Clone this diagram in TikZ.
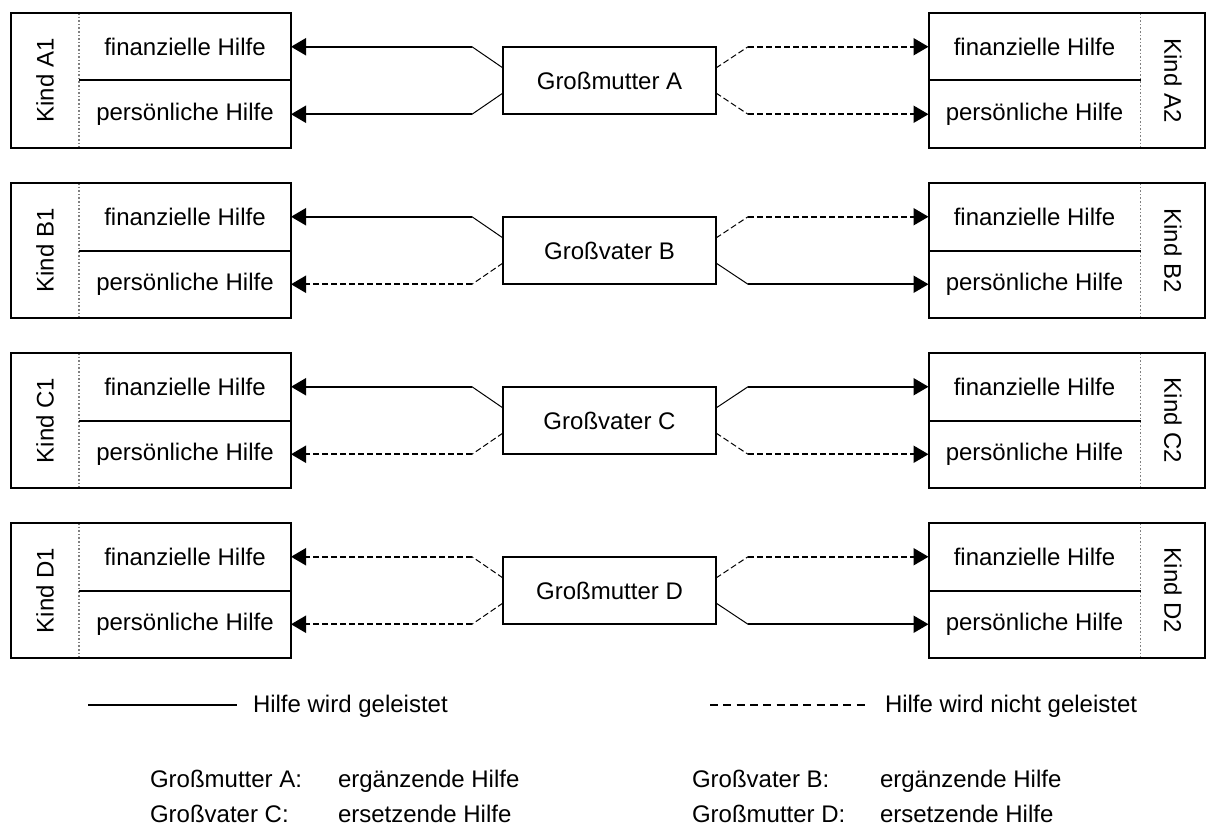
\documentclass[tikz,border=0pt]{standalone}
\usepackage{fontspec}
\setmainfont{Liberation Sans}
\usepackage{tikz}
\usetikzlibrary{arrows.meta}
\usetikzlibrary{positioning}

\tikzset{
  cell/.style={minimum width=106pt, minimum height=33.75pt, inner sep=0pt, outer sep=0pt},
  kind/.style={inner sep=0pt, outer sep=0pt},
  elder/.style={draw=black, line width=1pt, minimum width=106.5pt, minimum height=33.75pt, inner sep=0pt, outer sep=0pt},
  frame/.style={line width=1pt},
  divider/.style={draw=gray, line width=0.8pt, densely dotted},
  given/.style={line width=1pt, -{Triangle[length=7.5pt,width=8.5pt]}},
  notgiven/.style={given, dash pattern=on 3pt off 1.5pt},
  kink/.style={line width=0.5pt},
  kinkdash/.style={kink, dash pattern=on 3pt off 1.5pt},
  legendtext/.style={inner sep=0pt, outer sep=0pt, anchor=base west}
}

\begin{document}
\begin{tikzpicture}[x=0.5pt, y=-0.5pt, font=\fontsize{12pt}{14pt}\selectfont]
    \useasboundingbox (0,0) rectangle (1209,829);

    % Zeile A
    \node[kind, rotate=90] (kindA1) at (45,80.5) {Kind A1};
    \node[cell] (finA1) at (185,46.75) {finanzielle Hilfe};
    \node[cell] (persA1) at (185,114.25) {persönliche Hilfe};
    \draw[divider] (finA1.north west) -- (persA1.south west);
    \draw[frame] (11,13) rectangle (persA1.south east);
    \draw[frame] (finA1.south west) -- (finA1.south east);
    \node[kind, rotate=-90] (kindA2) at (1173,80.5) {Kind A2};
    \node[cell] (finA2) at (1034.5,46.75) {finanzielle Hilfe};
    \node[cell] (persA2) at (1034.5,114.25) {persönliche Hilfe};
    \draw[divider] (finA2.north east) -- (persA2.south east);
    \draw[frame] (finA2.north west) rectangle (1205,148);
    \draw[frame] (finA2.south west) -- (finA2.south east);
    \node[elder] (gmA) at (609.5,80.5) {Großmutter A};
    \coordinate (bendA1f) at (472,46.75);
    \coordinate (bendA1p) at (472,114.25);
    \coordinate (bendA2f) at (748,46.75);
    \coordinate (bendA2p) at (748,114.25);
    \draw[kink] ([yshift=6.25pt]gmA.west) -- (bendA1f);
    \draw[kink] ([yshift=-6.25pt]gmA.west) -- (bendA1p);
    \draw[kinkdash] ([yshift=6.25pt]gmA.east) -- (bendA2f);
    \draw[kinkdash] ([yshift=-6.25pt]gmA.east) -- (bendA2p);
    \draw[given] (bendA1f) -- (finA1.east);
    \draw[given] (bendA1p) -- (persA1.east);
    \draw[notgiven] (bendA2f) -- (finA2.west);
    \draw[notgiven] (bendA2p) -- (persA2.west);

    % Zeile B
    \node[kind, rotate=90] (kindB1) at (45,250.5) {Kind B1};
    \node[cell] (finB1) at (185,216.75) {finanzielle Hilfe};
    \node[cell] (persB1) at (185,284.25) {persönliche Hilfe};
    \draw[divider] (finB1.north west) -- (persB1.south west);
    \draw[frame] (11,183) rectangle (persB1.south east);
    \draw[frame] (finB1.south west) -- (finB1.south east);
    \node[kind, rotate=-90] (kindB2) at (1173,250.5) {Kind B2};
    \node[cell] (finB2) at (1034.5,216.75) {finanzielle Hilfe};
    \node[cell] (persB2) at (1034.5,284.25) {persönliche Hilfe};
    \draw[divider] (finB2.north east) -- (persB2.south east);
    \draw[frame] (finB2.north west) rectangle (1205,318);
    \draw[frame] (finB2.south west) -- (finB2.south east);
    \node[elder] (gvB) at (609.5,250.5) {Großvater B};
    \coordinate (bendB1f) at (472,216.75);
    \coordinate (bendB1p) at (472,284.25);
    \coordinate (bendB2f) at (748,216.75);
    \coordinate (bendB2p) at (748,284.25);
    \draw[kink] ([yshift=6.25pt]gvB.west) -- (bendB1f);
    \draw[kinkdash] ([yshift=-6.25pt]gvB.west) -- (bendB1p);
    \draw[kinkdash] ([yshift=6.25pt]gvB.east) -- (bendB2f);
    \draw[kink] ([yshift=-6.25pt]gvB.east) -- (bendB2p);
    \draw[given] (bendB1f) -- (finB1.east);
    \draw[notgiven] (bendB1p) -- (persB1.east);
    \draw[notgiven] (bendB2f) -- (finB2.west);
    \draw[given] (bendB2p) -- (persB2.west);

    % Zeile C
    \node[kind, rotate=90] (kindC1) at (45,420.5) {Kind C1};
    \node[cell] (finC1) at (185,386.75) {finanzielle Hilfe};
    \node[cell] (persC1) at (185,454.25) {persönliche Hilfe};
    \draw[divider] (finC1.north west) -- (persC1.south west);
    \draw[frame] (11,353) rectangle (persC1.south east);
    \draw[frame] (finC1.south west) -- (finC1.south east);
    \node[kind, rotate=-90] (kindC2) at (1173,420.5) {Kind C2};
    \node[cell] (finC2) at (1034.5,386.75) {finanzielle Hilfe};
    \node[cell] (persC2) at (1034.5,454.25) {persönliche Hilfe};
    \draw[divider] (finC2.north east) -- (persC2.south east);
    \draw[frame] (finC2.north west) rectangle (1205,488);
    \draw[frame] (finC2.south west) -- (finC2.south east);
    \node[elder] (gvC) at (609.5,420.5) {Großvater C};
    \coordinate (bendC1f) at (472,386.75);
    \coordinate (bendC1p) at (472,454.25);
    \coordinate (bendC2f) at (748,386.75);
    \coordinate (bendC2p) at (748,454.25);
    \draw[kink] ([yshift=6.25pt]gvC.west) -- (bendC1f);
    \draw[kinkdash] ([yshift=-6.25pt]gvC.west) -- (bendC1p);
    \draw[kink] ([yshift=6.25pt]gvC.east) -- (bendC2f);
    \draw[kinkdash] ([yshift=-6.25pt]gvC.east) -- (bendC2p);
    \draw[given] (bendC1f) -- (finC1.east);
    \draw[notgiven] (bendC1p) -- (persC1.east);
    \draw[given] (bendC2f) -- (finC2.west);
    \draw[notgiven] (bendC2p) -- (persC2.west);

    % Zeile D
    \node[kind, rotate=90] (kindD1) at (45,590.5) {Kind D1};
    \node[cell] (finD1) at (185,556.75) {finanzielle Hilfe};
    \node[cell] (persD1) at (185,624.25) {persönliche Hilfe};
    \draw[divider] (finD1.north west) -- (persD1.south west);
    \draw[frame] (11,523) rectangle (persD1.south east);
    \draw[frame] (finD1.south west) -- (finD1.south east);
    \node[kind, rotate=-90] (kindD2) at (1173,590.5) {Kind D2};
    \node[cell] (finD2) at (1034.5,556.75) {finanzielle Hilfe};
    \node[cell] (persD2) at (1034.5,624.25) {persönliche Hilfe};
    \draw[divider] (finD2.north east) -- (persD2.south east);
    \draw[frame] (finD2.north west) rectangle (1205,658);
    \draw[frame] (finD2.south west) -- (finD2.south east);
    \node[elder] (gmD) at (609.5,590.5) {Großmutter D};
    \coordinate (bendD1f) at (472,556.75);
    \coordinate (bendD1p) at (472,624.25);
    \coordinate (bendD2f) at (748,556.75);
    \coordinate (bendD2p) at (748,624.25);
    \draw[kinkdash] ([yshift=6.25pt]gmD.west) -- (bendD1f);
    \draw[kinkdash] ([yshift=-6.25pt]gmD.west) -- (bendD1p);
    \draw[kinkdash] ([yshift=6.25pt]gmD.east) -- (bendD2f);
    \draw[kink] ([yshift=-6.25pt]gmD.east) -- (bendD2p);
    \draw[notgiven] (bendD1f) -- (finD1.east);
    \draw[notgiven] (bendD1p) -- (persD1.east);
    \draw[notgiven] (bendD2f) -- (finD2.west);
    \draw[given] (bendD2p) -- (persD2.west);

    % Legende
    \node[legendtext] (txtGiven) at (253,712) {Hilfe wird geleistet};
    \node[legendtext] (txtNotGiven) at (885,712) {Hilfe wird nicht geleistet};
    \coordinate (solidStart) at (88,705);
    \coordinate (solidEnd) at (237,705);
    \coordinate (dashStart) at (710,705);
    \coordinate (dashEnd) at (870,705);
    \draw[line width=1pt] (solidStart) -- (solidEnd);
    \draw[line width=1.2pt, dash pattern=on 4pt off 2.67pt] (dashStart) -- (dashEnd);

    \node[legendtext] (lblA) at (150,787) {Großmutter A:};
    \node[legendtext] (valA) at (338,787) {ergänzende Hilfe};
    \node[legendtext] (lblB) at (692,787) {Großvater B:};
    \node[legendtext] (valB) at (880,787) {ergänzende Hilfe};
    \node[legendtext] (lblC) at (150,822) {Großvater C:};
    \node[legendtext] (valC) at (338,822) {ersetzende Hilfe};
    \node[legendtext] (lblD) at (692,822) {Großmutter D:};
    \node[legendtext] (valD) at (880,822) {ersetzende Hilfe};
\end{tikzpicture}
\end{document}
